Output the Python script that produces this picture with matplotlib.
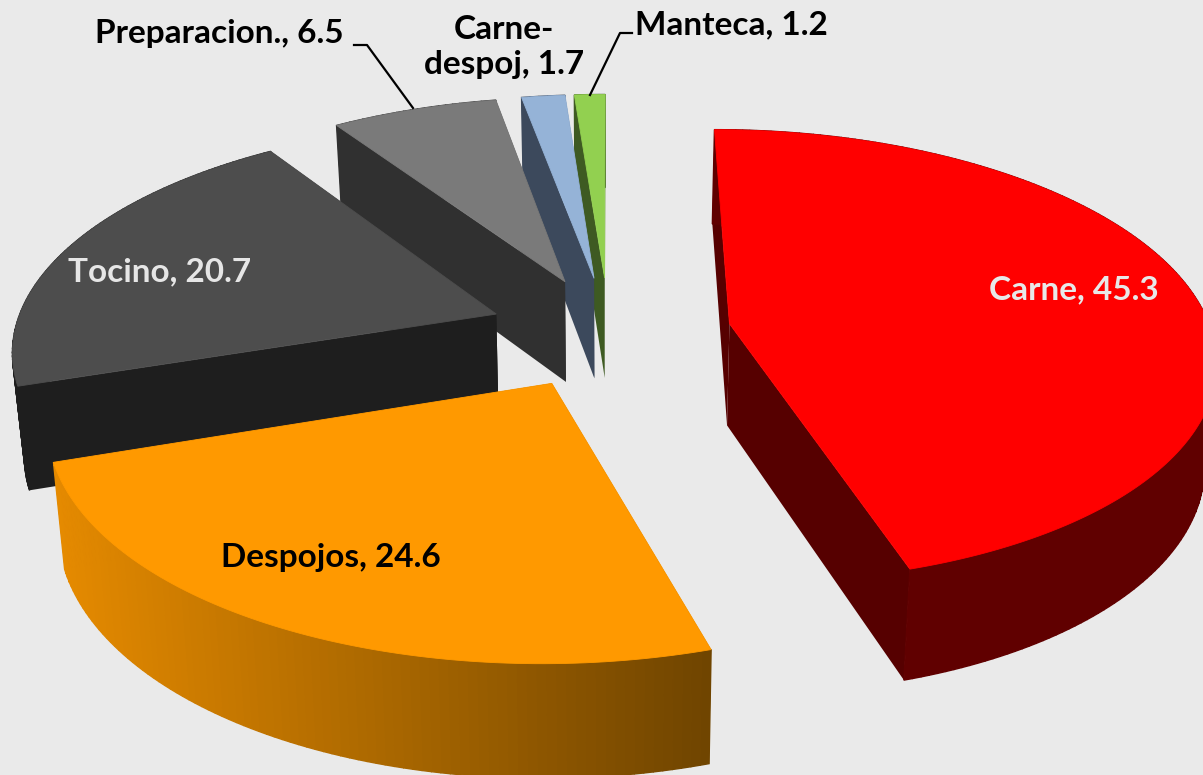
import numpy as np
import matplotlib
matplotlib.use("Agg")
import matplotlib.pyplot as plt
from matplotlib.colors import to_rgb

categories = ["Carne", "Despojos", "Tocino", "Preparacion.", "Carne-despoj", "Manteca"]
values = [45.3, 24.6, 20.7, 6.5, 1.7, 1.2]
explode = [0.254, 0.25, 0.25, 0.25, 0.25, 0.25]
top_colors = ["#FF0000", "#FF9900", "#4D4D4D", "#7A7A7A", "#95B3D7", "#92D050"]
cut_colors = ["#560000", "#704500", "#1E1E1E", "#303030", "#3C495C", "#3E5A22"]
arc_colors = ["#600000", "#C07400", "#1E1E1E", "#303030", "#3C495C", "#3E5A22"]

W, H = 1203, 775
BG = "#EAEAEA"
CX, CY = 609, 332
S, A, K = 482, 224, 0.143
DEPTH = 102


def project(x, y):
    d = 1 + K * y
    return CX + S * x / d, CY - A * y / d


def drop(px, py):
    return CX + (px - CX) * 0.98, py + DEPTH + 0.038 * (py - CY)


fig = plt.figure(figsize=(W / 100, H / 100), dpi=100, facecolor=BG)
ax = fig.add_axes([0, 0, 1, 1])
ax.set_xlim(0, W)
ax.set_ylim(H, 0)
ax.axis("off")

total = sum(values)
edges = np.concatenate([[0], np.cumsum(values)]) / total * 2 * np.pi
slices = []
for i, v in enumerate(values):
    a0, a1 = edges[i], edges[i + 1]
    mid = (a0 + a1) / 2
    ox, oy = explode[i] * np.sin(mid), explode[i] * np.cos(mid)
    ang = np.linspace(a0, a1, max(int((a1 - a0) * 60), 6))
    ax_pts = project(ox + np.sin(ang), oy + np.cos(ang))
    apex = project(ox, oy)
    slices.append((i, apex, np.array(ax_pts[0]), np.array(ax_pts[1])))

draw_order = [5, 4, 3, 2, 0, 1]
for z, i in enumerate(draw_order):
    _, apex, ax_x, ax_y = slices[i]
    base = 2 + z * 3
    # cut faces
    for px, py in [(ax_x[0], ax_y[0]), (ax_x[-1], ax_y[-1])]:
        q1 = drop(*apex)
        q2 = drop(px, py)
        ax.fill([apex[0], px, q2[0], q1[0]], [apex[1], py, q2[1], q1[1]],
                facecolor=cut_colors[i], edgecolor="none", zorder=base)
    # outer wall
    low_x, low_y = drop(ax_x, ax_y)
    c0, c1 = np.array(to_rgb("#E58A00")), np.array(to_rgb("#704500"))
    for j in range(len(ax_x) - 1):
        col = arc_colors[i]
        if i == 1:
            t = np.clip((ax_x[j] - 55) / (711 - 55), 0, 1)
            col = tuple(c0 + (c1 - c0) * t)
        ax.fill([ax_x[j], ax_x[j + 1], low_x[j + 1], low_x[j]],
                [ax_y[j], ax_y[j + 1], low_y[j + 1], low_y[j]],
                color=col, lw=1.0, zorder=base + 1)
    # top
    ax.fill(np.r_[apex[0], ax_x], np.r_[apex[1], ax_y], color=top_colors[i], lw=0.6, zorder=base + 2)

font = dict(family="Lato", fontweight="bold", fontsize=24, ha="center", va="center", zorder=40)
ax.text(1074, 290, f"{categories[0]}, {values[0]}", color="#E8E8E8", **font)
ax.text(331, 558, f"{categories[1]}, {values[1]}", color="black", **font)
ax.text(160, 272, f"{categories[2]}, {values[2]}", color="#E6E6E6", **font)
ax.text(219, 34, f"{categories[3]}, {values[3]}", color="black", **font)
ax.text(504, 47, f"Carne-\ndespoj, {values[4]}", color="black", linespacing=1.25, **font)
ax.text(731, 25, f"{categories[5]}, {values[5]}", color="black", **font)

ax.plot([354, 367, 413], [45, 45, 108], color="black", lw=1.6, zorder=30)
ax.plot([632, 620, 590], [33, 33, 95], color="black", lw=1.6, zorder=30)

fig.savefig("out.png", dpi=100, facecolor=BG)
